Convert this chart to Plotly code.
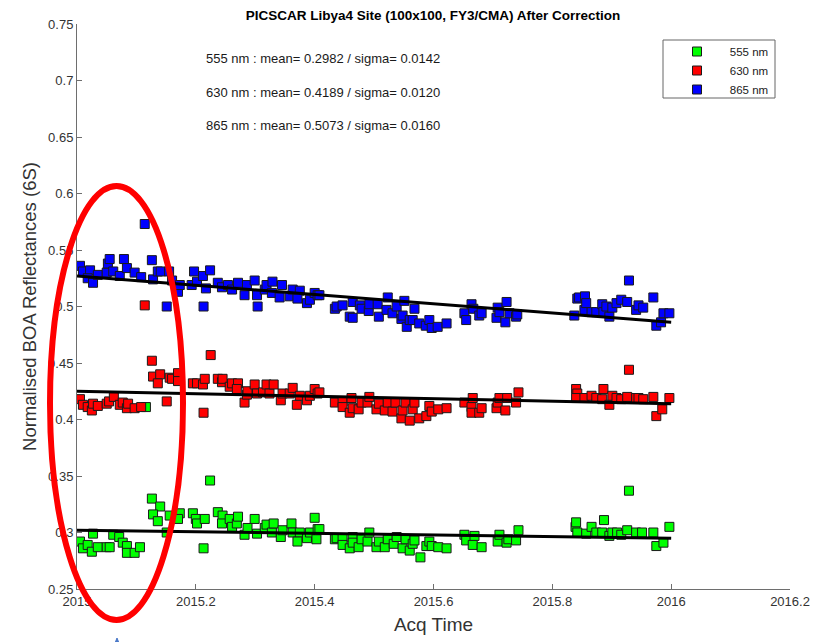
import plotly.graph_objects as go

# ---- data (decimal year, reflectance) ----
obs_555 = [
    (2015.005, 0.292), (2015.010, 0.286), (2015.018, 0.289), (2015.025, 0.283), (2015.027, 0.299),
    (2015.035, 0.287), (2015.050, 0.287), (2015.055, 0.287), (2015.061, 0.298), (2015.071, 0.296),
    (2015.077, 0.291), (2015.084, 0.288), (2015.084, 0.282), (2015.097, 0.282), (2015.106, 0.287),
    (2015.116, 0.411), (2015.126, 0.330), (2015.140, 0.323), (2015.128, 0.316), (2015.136, 0.310),
    (2015.151, 0.300), (2015.156, 0.315), (2015.173, 0.317), (2015.170, 0.312), (2015.195, 0.317),
    (2015.200, 0.312), (2015.202, 0.308), (2015.213, 0.286), (2015.215, 0.312), (2015.224, 0.346),
    (2015.237, 0.318), (2015.245, 0.315), (2015.244, 0.308), (2015.257, 0.312), (2015.261, 0.305),
    (2015.269, 0.308), (2015.271, 0.314), (2015.282, 0.298), (2015.287, 0.304), (2015.299, 0.312),
    (2015.303, 0.299), (2015.316, 0.304), (2015.319, 0.307), (2015.328, 0.300), (2015.331, 0.308),
    (2015.343, 0.296), (2015.346, 0.302), (2015.361, 0.308), (2015.363, 0.300), (2015.375, 0.300),
    (2015.371, 0.292), (2015.387, 0.295), (2015.392, 0.300), (2015.400, 0.313), (2015.403, 0.294),
    (2015.405, 0.303), (2015.408, 0.303), (2015.434, 0.294), (2015.437, 0.295), (2015.447, 0.295),
    (2015.447, 0.289), (2015.459, 0.286), (2015.464, 0.296), (2015.464, 0.291), (2015.474, 0.287),
    (2015.479, 0.294), (2015.489, 0.292), (2015.492, 0.300), (2015.504, 0.287), (2015.508, 0.292),
    (2015.518, 0.287), (2015.523, 0.294), (2015.533, 0.290), (2015.538, 0.296), (2015.548, 0.286),
    (2015.553, 0.294), (2015.560, 0.284), (2015.565, 0.290), (2015.568, 0.293), (2015.578, 0.278),
    (2015.588, 0.288), (2015.593, 0.292), (2015.597, 0.288), (2015.608, 0.287), (2015.622, 0.286),
    (2015.652, 0.298), (2015.655, 0.293), (2015.666, 0.289), (2015.669, 0.297), (2015.681, 0.287),
    (2015.708, 0.292), (2015.711, 0.298), (2015.723, 0.291), (2015.726, 0.294), (2015.739, 0.293),
    (2015.743, 0.302), (2015.839, 0.305), (2015.840, 0.309), (2015.842, 0.300), (2015.857, 0.299),
    (2015.866, 0.305), (2015.874, 0.300), (2015.884, 0.300), (2015.887, 0.311), (2015.896, 0.297),
    (2015.901, 0.300), (2015.909, 0.300), (2015.916, 0.298), (2015.926, 0.302), (2015.929, 0.337),
    (2015.941, 0.300), (2015.951, 0.300), (2015.970, 0.300), (2015.975, 0.288), (2015.987, 0.291),
    (2015.997, 0.305),
]

obs_630 = [
    (2015.005, 0.418), (2015.010, 0.413), (2015.018, 0.411), (2015.025, 0.408), (2015.027, 0.414),
    (2015.035, 0.412), (2015.050, 0.414), (2015.054, 0.416), (2015.062, 0.420), (2015.072, 0.413),
    (2015.077, 0.415), (2015.084, 0.410), (2015.086, 0.414), (2015.097, 0.410), (2015.108, 0.411),
    (2015.114, 0.501), (2015.126, 0.452), (2015.128, 0.438), (2015.140, 0.440), (2015.136, 0.432),
    (2015.151, 0.416), (2015.156, 0.437), (2015.160, 0.436), (2015.170, 0.441), (2015.170, 0.434),
    (2015.195, 0.432), (2015.202, 0.432), (2015.212, 0.431), (2015.215, 0.436), (2015.213, 0.406),
    (2015.225, 0.457), (2015.237, 0.436), (2015.244, 0.433), (2015.245, 0.436), (2015.257, 0.429),
    (2015.261, 0.432), (2015.271, 0.432), (2015.269, 0.427), (2015.282, 0.415), (2015.286, 0.422),
    (2015.287, 0.425), (2015.299, 0.431), (2015.303, 0.423), (2015.313, 0.424), (2015.319, 0.431),
    (2015.324, 0.423), (2015.331, 0.431), (2015.343, 0.417), (2015.346, 0.423), (2015.358, 0.423),
    (2015.363, 0.428), (2015.370, 0.413), (2015.375, 0.421), (2015.387, 0.417), (2015.392, 0.421),
    (2015.400, 0.427), (2015.405, 0.423), (2015.408, 0.424), (2015.434, 0.415), (2015.447, 0.416),
    (2015.447, 0.411), (2015.459, 0.406), (2015.462, 0.419), (2015.464, 0.410), (2015.474, 0.409),
    (2015.479, 0.415), (2015.489, 0.415), (2015.492, 0.420), (2015.504, 0.409), (2015.508, 0.414),
    (2015.518, 0.408), (2015.523, 0.415), (2015.531, 0.407), (2015.536, 0.415), (2015.546, 0.401),
    (2015.548, 0.408), (2015.553, 0.415), (2015.560, 0.399), (2015.565, 0.409), (2015.568, 0.415),
    (2015.576, 0.401), (2015.588, 0.403), (2015.593, 0.412), (2015.597, 0.407), (2015.608, 0.409),
    (2015.622, 0.410), (2015.652, 0.415), (2015.664, 0.411), (2015.666, 0.419), (2015.664, 0.406),
    (2015.677, 0.406), (2015.681, 0.410), (2015.706, 0.410), (2015.708, 0.415), (2015.711, 0.419),
    (2015.721, 0.408), (2015.724, 0.419), (2015.739, 0.415), (2015.743, 0.424), (2015.840, 0.427),
    (2015.842, 0.423), (2015.840, 0.419), (2015.854, 0.419), (2015.866, 0.421), (2015.874, 0.419),
    (2015.886, 0.427), (2015.884, 0.418), (2015.896, 0.413), (2015.901, 0.421), (2015.908, 0.419),
    (2015.916, 0.418), (2015.926, 0.420), (2015.929, 0.444), (2015.941, 0.419), (2015.945, 0.419),
    (2015.953, 0.418), (2015.970, 0.420), (2015.975, 0.403), (2015.985, 0.409), (2015.997, 0.419),
]

obs_865 = [
    (2015.005, 0.536), (2015.010, 0.531), (2015.022, 0.532), (2015.018, 0.525), (2015.027, 0.521),
    (2015.035, 0.528), (2015.050, 0.530), (2015.052, 0.538), (2015.055, 0.542), (2015.061, 0.531),
    (2015.072, 0.527), (2015.079, 0.542), (2015.084, 0.534), (2015.097, 0.530), (2015.108, 0.526),
    (2015.114, 0.573), (2015.126, 0.541), (2015.128, 0.524), (2015.136, 0.531), (2015.141, 0.531),
    (2015.151, 0.500), (2015.155, 0.531), (2015.160, 0.523), (2015.170, 0.513), (2015.173, 0.519),
    (2015.193, 0.519), (2015.197, 0.531), (2015.202, 0.522), (2015.212, 0.527), (2015.213, 0.500),
    (2015.217, 0.516), (2015.224, 0.532), (2015.237, 0.521), (2015.244, 0.517), (2015.254, 0.519),
    (2015.261, 0.515), (2015.271, 0.521), (2015.282, 0.510), (2015.286, 0.519), (2015.299, 0.523),
    (2015.303, 0.510), (2015.304, 0.500), (2015.316, 0.515), (2015.319, 0.519), (2015.329, 0.522),
    (2015.328, 0.512), (2015.345, 0.519), (2015.341, 0.508), (2015.358, 0.509), (2015.363, 0.515),
    (2015.375, 0.514), (2015.371, 0.507), (2015.387, 0.503), (2015.392, 0.506), (2015.400, 0.512),
    (2015.405, 0.510), (2015.408, 0.510), (2015.434, 0.498), (2015.437, 0.500), (2015.447, 0.501),
    (2015.459, 0.491), (2015.464, 0.490), (2015.464, 0.504), (2015.476, 0.501), (2015.479, 0.498),
    (2015.491, 0.496), (2015.492, 0.502), (2015.506, 0.502), (2015.508, 0.491), (2015.521, 0.497),
    (2015.523, 0.508), (2015.531, 0.494), (2015.538, 0.500), (2015.546, 0.489), (2015.548, 0.492),
    (2015.551, 0.505), (2015.555, 0.482), (2015.560, 0.488), (2015.565, 0.488), (2015.568, 0.498),
    (2015.576, 0.485), (2015.587, 0.483), (2015.593, 0.488), (2015.597, 0.481), (2015.607, 0.482),
    (2015.622, 0.485), (2015.652, 0.494), (2015.655, 0.488), (2015.664, 0.502), (2015.667, 0.498),
    (2015.677, 0.492), (2015.681, 0.494), (2015.706, 0.490), (2015.708, 0.499), (2015.711, 0.495),
    (2015.721, 0.486), (2015.723, 0.504), (2015.728, 0.494), (2015.739, 0.491), (2015.741, 0.493),
    (2015.837, 0.492), (2015.842, 0.507), (2015.845, 0.508), (2015.854, 0.497), (2015.855, 0.509),
    (2015.857, 0.503), (2015.866, 0.495), (2015.874, 0.495), (2015.884, 0.502), (2015.886, 0.495),
    (2015.891, 0.500), (2015.896, 0.491), (2015.901, 0.499), (2015.908, 0.503), (2015.916, 0.506),
    (2015.926, 0.504), (2015.929, 0.523), (2015.941, 0.497), (2015.945, 0.501), (2015.953, 0.499),
    (2015.970, 0.508), (2015.975, 0.483), (2015.983, 0.486), (2015.987, 0.494), (2015.997, 0.494),
]

# linear fit lines (endpoints)
trend_x = [2015.0, 2016.0]
trend_555 = [0.302, 0.295]
trend_630 = [0.425, 0.414]
trend_865 = [0.527, 0.486]

stats = [
    "555 nm : mean= 0.2982 / sigma= 0.0142",
    "630 nm : mean= 0.4189 / sigma= 0.0120",
    "865 nm : mean= 0.5073 / sigma= 0.0160",
]

x_ticks = [2015, 2015.2, 2015.4, 2015.6, 2015.8, 2016, 2016.2]
x_ticktext = ["2015", "2015.2", "2015.4", "2015.6", "2015.8", "2016", "2016.2"]
y_ticks = [0.25, 0.3, 0.35, 0.4, 0.45, 0.5, 0.55, 0.6, 0.65, 0.7, 0.75]
y_ticktext = ["0.25", "0.3", "0.35", "0.4", "0.45", "0.5", "0.55", "0.6", "0.65", "0.7", "0.75"]

W, H = 823, 642
L, R, T, B = 77, 33, 24, 53
PW, PH = W - L - R, H - T - B

def px(xp):
    return (xp - L) / PW

def py(yp):
    return (H - B - yp) / PH

FONT = "Liberation Sans, Arial, sans-serif"
NB = "\u00a0"

fig = go.Figure()
series = [
    ("555 nm", obs_555, "#00ff00"),
    ("630 nm", obs_630, "#ff0000"),
    ("865 nm", obs_865, "#0000ff"),
]
for name, obs, col in series:
    xs = [p[0] for p in obs]
    ys = [p[1] for p in obs]
    fig.add_trace(go.Scatter(
        x=xs, y=ys, mode="markers", name=NB * 4 + name,
        marker=dict(symbol="square", size=9, color=col,
                    line=dict(color="#1a1a1a", width=1)),
    ))

for ty in (trend_555, trend_630, trend_865):
    fig.add_trace(go.Scatter(
        x=trend_x, y=ty, mode="lines", showlegend=False,
        line=dict(color="black", width=3),
    ))

annotations = []
for i, s in enumerate(stats):
    annotations.append(dict(
        text=s, xref="paper", yref="paper", x=px(204), y=py(58 + 34 * i),
        xanchor="left", yanchor="middle", showarrow=False,
        font=dict(family=FONT, size=13, color="#1a1a1a"),
    ))

shapes = [
    # legend box
    dict(type="rect", xref="paper", yref="paper",
         x0=px(663), x1=px(775), y0=py(98), y1=py(40),
         line=dict(color="#666666", width=1), fillcolor="rgba(0,0,0,0)", layer="above"),
    # red ellipse highlight
    dict(type="circle", xref="paper", yref="paper",
         x0=px(50), x1=px(183), y0=py(620), y1=py(186),
         line=dict(color="#ff0000", width=6), layer="above"),
    # small blue arrow tip at the bottom
    dict(type="path", xref="paper", yref="paper",
         path=f"M {px(115)},{py(643)} L {px(117)},{py(638)} L {px(119)},{py(643)} Z",
         fillcolor="#4a78c8", line=dict(color="#4a78c8", width=1), layer="above"),
]

fig.update_layout(
    width=W, height=H,
    margin=dict(l=L, r=R, t=T, b=B, pad=0),
    paper_bgcolor="white", plot_bgcolor="white",
    font=dict(family=FONT, color="#262626"),
    title=dict(
        text="<b>PICSCAR Libya4 Site (100x100, FY3/CMA) After Correction</b>",
        x=px(433), xanchor="center", xref="paper",
        y=1 - 15 / H, yref="container", yanchor="middle",
        font=dict(family=FONT, size=13.5, color="#000000"),
    ),
    xaxis=dict(
        range=[2015, 2016.2], tickvals=x_ticks, ticktext=x_ticktext,
        showgrid=False, zeroline=False, showline=True, linecolor="#6e6e6e", linewidth=1,
        ticks="inside", ticklen=5, tickcolor="#6e6e6e",
        tickfont=dict(family=FONT, size=13, color="#333333"),
        title=dict(text="Acq Time", standoff=10,
                   font=dict(family=FONT, size=19, color="#333333")),
        automargin=False,
    ),
    yaxis=dict(
        range=[0.25, 0.75], tickvals=y_ticks, ticktext=y_ticktext,
        showgrid=False, zeroline=False, showline=True, linecolor="#6e6e6e", linewidth=1,
        ticks="inside", ticklen=5, tickcolor="#6e6e6e",
        tickfont=dict(family=FONT, size=13, color="#333333"),
        title=dict(text="Normalised BOA Reflectances (6S)", standoff=6,
                   font=dict(family=FONT, size=18.5, color="#333333")),
        automargin=False,
    ),
    legend=dict(
        x=px(677), y=py(37), xanchor="left", yanchor="top",
        bgcolor="rgba(0,0,0,0)", borderwidth=0,
        font=dict(family=FONT, size=11.5, color="#1a1a1a"),
        tracegroupgap=0,
    ),
    annotations=annotations,
    shapes=shapes,
)

fig.write_html("out.html")
